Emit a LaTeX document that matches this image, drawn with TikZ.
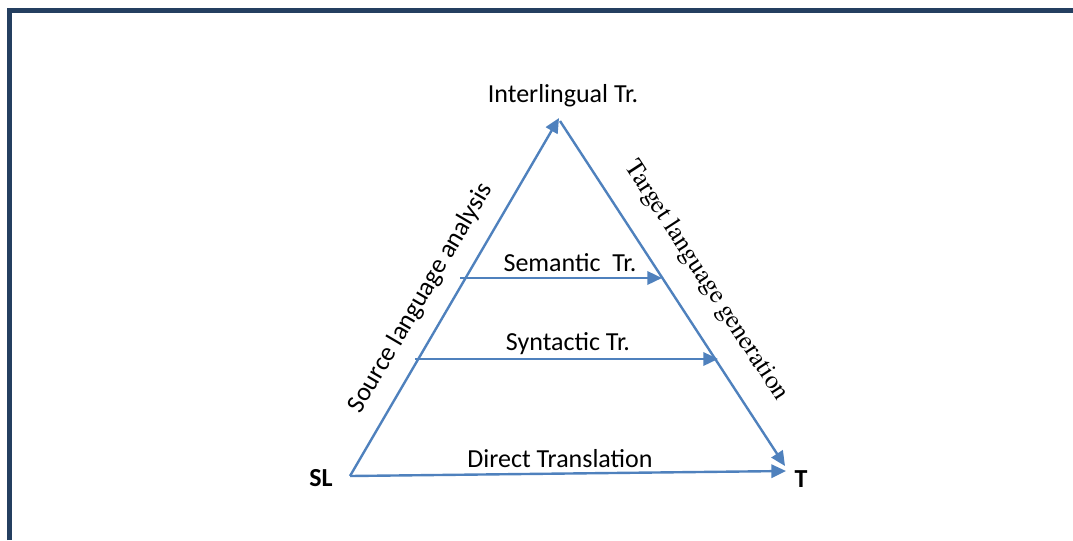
\documentclass[tikz,border=0pt]{standalone}
\usepackage{fontspec}
\setmainfont{Carlito}
\newfontfamily\tnrfont{texgyretermes-regular.otf}
\usetikzlibrary{arrows.meta}
\definecolor{lineblue}{HTML}{4F81BD}
\definecolor{framenavy}{HTML}{243F60}

\begin{document}
\begin{tikzpicture}[x=0.75pt,y=-0.75pt,
    side/.style={draw=lineblue,line width=1.8pt,-{Triangle[length=11pt,width=10pt]}},
    lbl/.style={font=\fontsize{19.5}{23}\selectfont,inner sep=0pt}]
      \useasboundingbox (0,0) rectangle (1073,540);
      % frame
      \draw[framenavy,line width=3.8pt] (9.5,540) -- (9.5,10.5) -- (1073,10.5);

      \coordinate (sl) at (350,476);
      \coordinate (apex) at (559,118);
      \coordinate (top) at (560,121);
      \coordinate (tend) at (785,466);
      \coordinate (dend) at (786,471);
      \coordinate (sem1) at (460,278);
      \coordinate (sem2) at (662,278);
      \coordinate (syn1) at (415,359);
      \coordinate (syn2) at (718,359);

      \node[lbl] (SL) at (321,478) {\bfseries SL};
      \node[lbl] (T) at (801,479) {\bfseries T};
      \node[lbl] (inter) at (563,96) {Interlingual Tr.};
      \node[lbl] (sem) at (570,263) {Semantic\ \ Tr.};
      \node[lbl] (syn) at (568,344) {Syntactic Tr.};
      \node[lbl] (direct) at (560,459) {Direct Translation};
      \node[lbl,rotate=59.6] (src) at (421,298) {Source language analysis};
      \node[inner sep=0pt,rotate=-57] (tgt) at (706,281) {\tnrfont\fontsize{19.5}{23}\selectfont Target language generation};

      \draw[side] (sl) -- (apex);
      \draw[side] (top) -- (tend);
      \draw[side] (sl) -- (dend);
      \draw[side] (sem1) -- (sem2);
      \draw[side] (syn1) -- (syn2);
\end{tikzpicture}
\end{document}
